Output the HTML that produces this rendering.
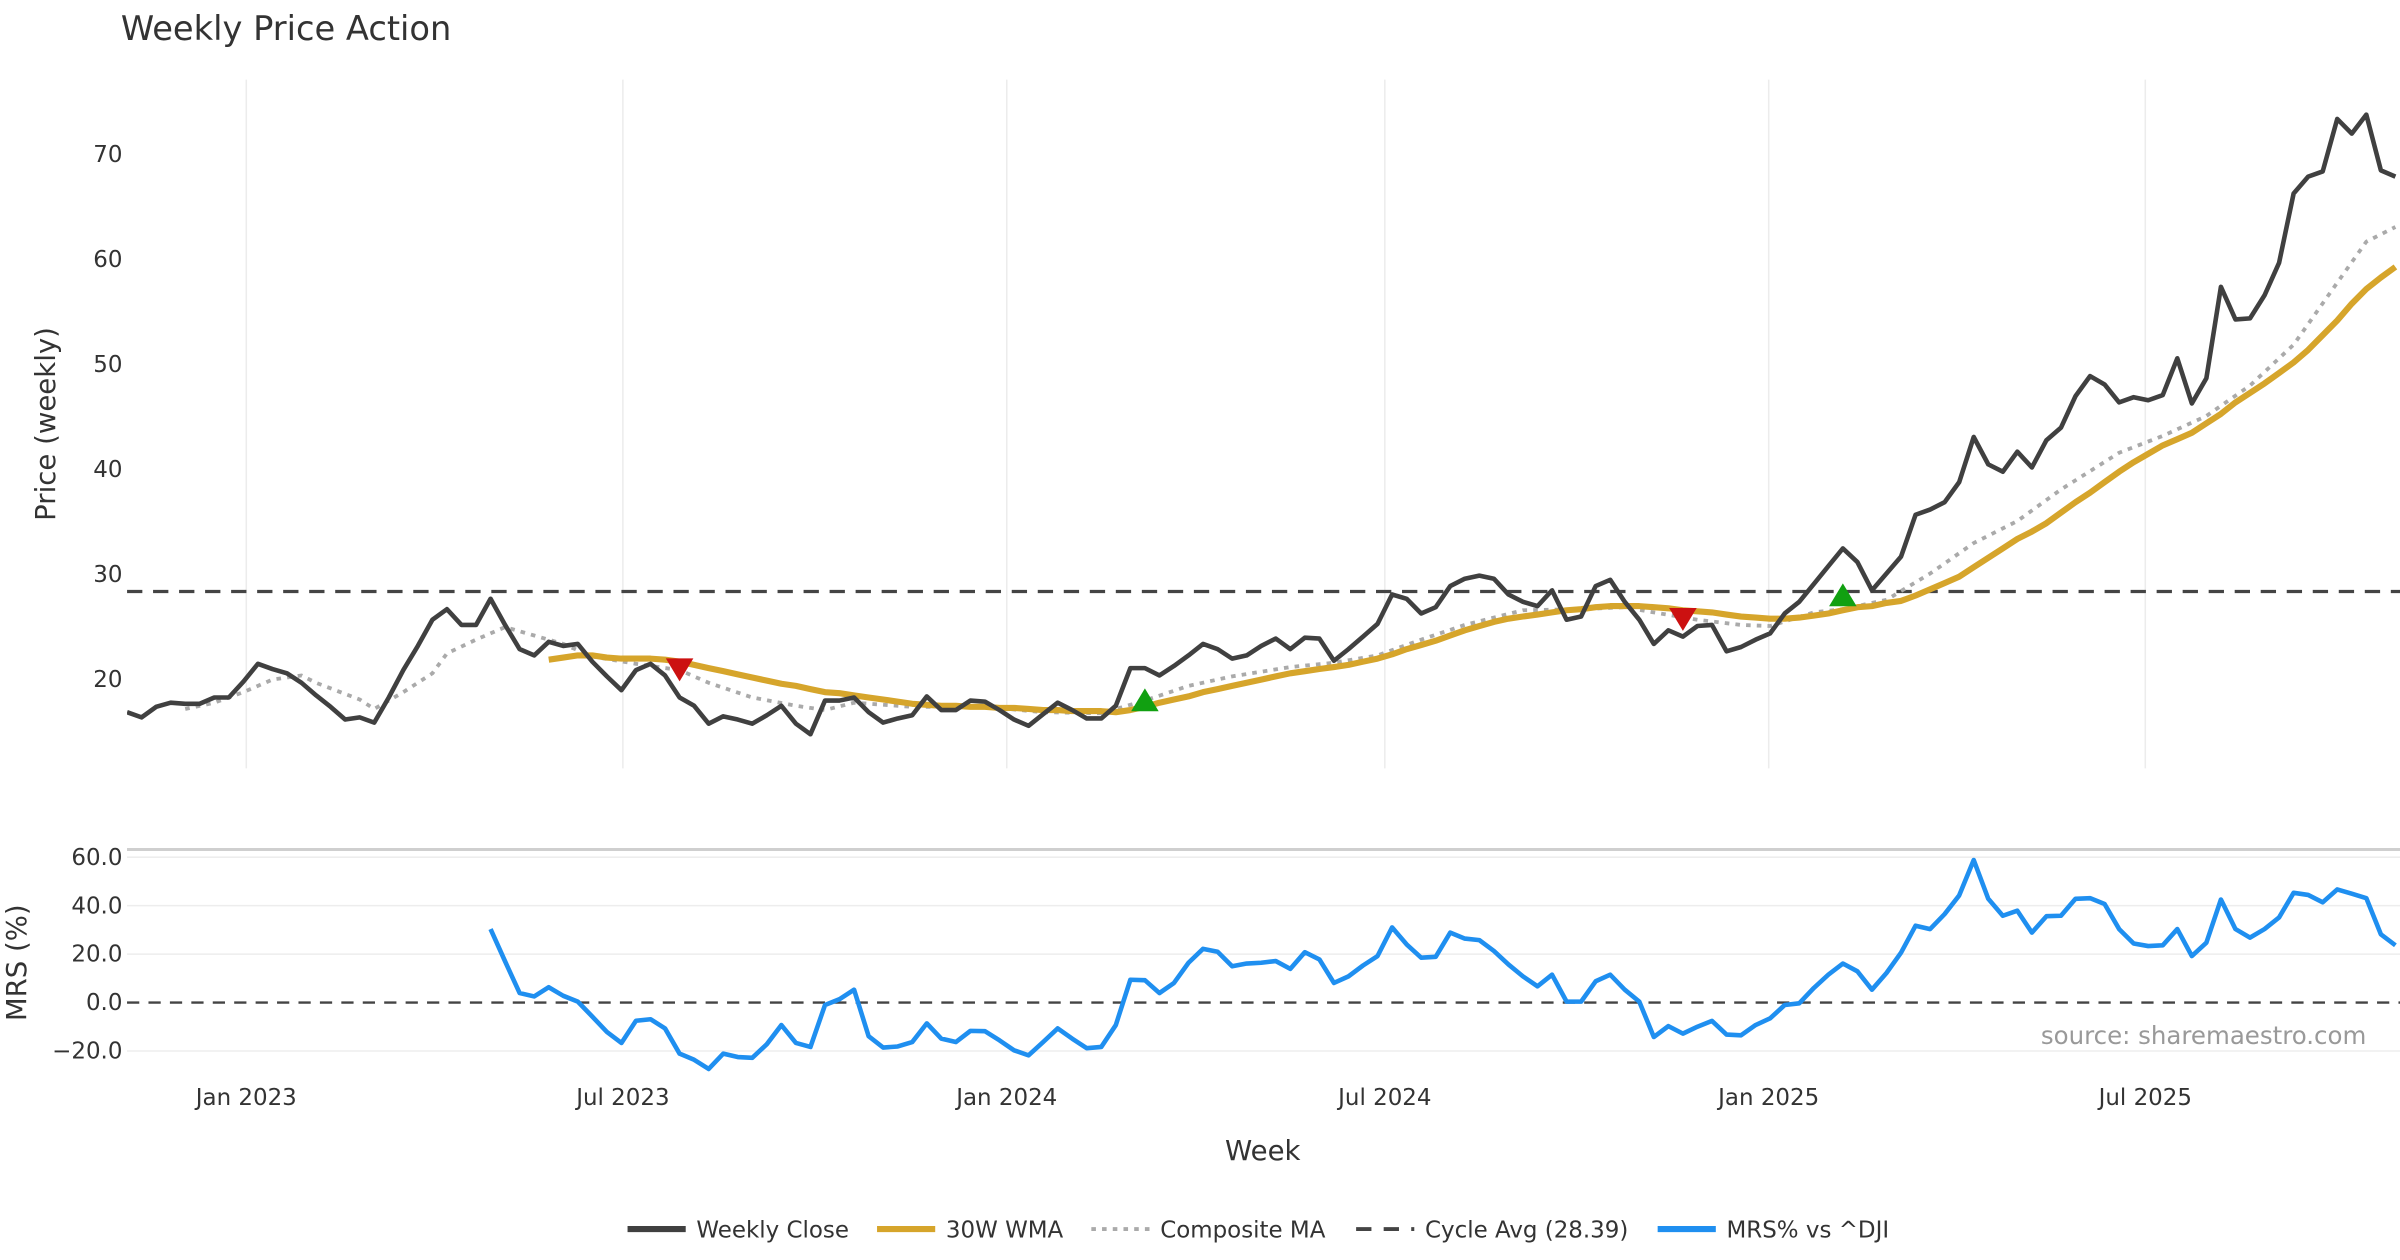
<!DOCTYPE html>
<html><head><meta charset="utf-8"><style>
html,body{margin:0;padding:0;background:#fff;}
svg{display:block;font-family:"DejaVu Sans","Liberation Sans",sans-serif;}
</style></head><body>
<svg id="chart" width="2400" height="1260" viewBox="0 0 1568 823.2" xmlns="http://www.w3.org/2000/svg">
<rect x="0" y="0" width="1568" height="823.2" fill="#fff"/>
<text x="79" y="26" font-size="22" fill="#333">Weekly Price Action</text>
<text transform="translate(36,277) rotate(-90)" text-anchor="middle" font-size="18" fill="#333">Price (weekly)</text>
<text transform="translate(17,629) rotate(-90)" text-anchor="middle" font-size="18" fill="#333">MRS (%)</text>
<text x="825" y="758" text-anchor="middle" font-size="18" fill="#333">Week</text>
<text x="1546" y="682" text-anchor="end" font-size="16" fill="#999">source: sharemaestro.com</text>
<g id="grid"></g>
<g id="series"></g>
<g id="legend"></g>
</svg>
<script>
const closeValues=[16.9,16.4,17.4,17.8,17.7,17.7,18.3,18.3,19.8,21.5,21.0,20.6,19.7,18.5,17.4,16.2,16.4,15.9,18.3,20.9,23.2,25.7,26.7,25.2,25.2,27.7,25.2,22.9,22.3,23.6,23.2,23.4,21.7,20.3,19.0,20.9,21.5,20.4,18.3,17.5,15.8,16.5,16.2,15.8,16.6,17.5,15.8,14.8,18.0,18.0,18.3,16.9,15.9,16.3,16.6,18.4,17.1,17.1,18.0,17.9,17.1,16.2,15.6,16.7,17.8,17.1,16.3,16.3,17.5,21.1,21.1,20.4,21.3,22.3,23.4,22.9,22.0,22.3,23.2,23.9,22.9,24.0,23.9,21.8,22.9,24.1,25.3,28.1,27.7,26.3,26.9,28.9,29.6,29.9,29.6,28.1,27.4,27.0,28.5,25.7,26.0,28.9,29.5,27.4,25.7,23.4,24.7,24.1,25.1,25.2,22.7,23.1,23.8,24.4,26.3,27.4,29.1,30.8,32.5,31.2,28.5,30.1,31.7,35.7,36.2,36.9,38.8,43.1,40.5,39.8,41.7,40.2,42.8,44.0,47.0,48.9,48.1,46.4,46.9,46.6,47.1,50.6,46.3,48.7,57.4,54.3,54.4,56.6,59.7,66.3,67.9,68.4,73.4,72.0,73.8,68.5,67.9];
const wmaStart=29;
const wmaValues=[21.9,22.1,22.3,22.3,22.1,22.0,22.0,22.0,21.9,21.7,21.4,21.1,20.8,20.5,20.2,19.9,19.6,19.4,19.1,18.8,18.7,18.5,18.3,18.1,17.9,17.7,17.6,17.5,17.5,17.4,17.4,17.3,17.3,17.2,17.1,17.1,17.0,17.0,17.0,16.9,17.1,17.4,17.8,18.1,18.4,18.8,19.1,19.4,19.7,20.0,20.3,20.6,20.8,21.0,21.2,21.4,21.7,22.0,22.4,22.9,23.3,23.7,24.2,24.7,25.1,25.5,25.8,26.0,26.2,26.4,26.6,26.7,26.9,27.0,27.0,27.0,26.9,26.8,26.6,26.5,26.4,26.2,26.0,25.9,25.8,25.8,25.9,26.1,26.3,26.6,26.9,27.0,27.3,27.5,28.0,28.6,29.2,29.8,30.7,31.6,32.5,33.4,34.1,34.9,35.9,36.9,37.8,38.8,39.8,40.7,41.5,42.3,42.9,43.5,44.4,45.3,46.4,47.3,48.2,49.2,50.2,51.4,52.8,54.2,55.8,57.2,58.3,59.3];
const compWeeks=[4,6,8,10,12,13,16,17,19,21,22,24,26,28,30,32,35,38,40,43,46,48,50,54,59,63,67,70,73,76,80,83,86,89,92,96,100,103,105,108,111,113,116,118,121,124,127,130,133,137,140,143,146,149,152,154,156];
const compValues=[17.2,17.8,18.8,20.0,20.4,19.7,18.1,17.2,18.8,20.6,22.5,23.8,25.0,24.2,23.4,22.2,21.5,20.9,19.7,18.3,17.5,17.1,17.8,17.4,17.4,16.9,16.8,18.0,19.4,20.3,21.2,21.6,22.3,23.8,25.2,26.6,26.7,26.9,26.4,25.7,25.2,25.1,26.4,26.7,27.6,30.1,33.0,35.1,38.1,41.6,43.2,45.1,48.0,51.9,57.8,61.7,63.1];
const cycleAvg=28.39;
const sellWeeks=[38,107];
const sellValues=[21.0,25.8];
const buyWeeks=[70,118];
const buyValues=[18.0,28.0];
const mrsStart=25;
const mrsValues=[30.3,17.0,3.9,2.5,6.3,2.8,0.4,-5.8,-12.1,-16.7,-7.5,-6.9,-10.7,-21.1,-23.6,-27.4,-21.1,-22.5,-22.8,-17.2,-9.3,-16.7,-18.3,-1.0,1.4,5.3,-13.9,-18.6,-18.1,-16.3,-8.6,-14.9,-16.3,-11.7,-11.8,-15.6,-19.7,-21.8,-16.3,-10.7,-14.9,-18.8,-18.3,-9.3,9.4,9.2,3.9,8.1,16.4,22.2,21.0,15.0,16.1,16.4,17.1,13.9,20.8,17.8,8.1,10.8,15.3,19.2,31.0,24.0,18.5,18.9,28.9,26.4,25.8,21.3,15.7,10.8,6.7,11.5,0.4,0.4,8.8,11.5,5.3,0.4,-14.2,-9.7,-12.8,-10.0,-7.6,-13.2,-13.5,-9.3,-6.5,-1.0,-0.3,6.0,11.5,16.1,12.9,5.3,12.2,20.6,31.7,30.3,36.5,44.2,58.8,42.8,35.8,37.9,28.9,35.6,35.8,42.8,43.1,40.7,30.3,24.4,23.3,23.6,30.3,19.2,24.7,42.5,30.3,26.8,30.3,35.1,45.3,44.4,41.4,46.7,44.9,43.1,28.2,23.6];
const xTickLabels=["Jan 2023","Jul 2023","Jan 2024","Jul 2024","Jan 2025","Jul 2025"];
const xTickWeeks=[8.2,34.1,60.5,86.5,112.9,138.8];
const priceTicks=[20,30,40,50,60,70];
const mrsTicks=[60,40,20,0,-20];

const NS="http://www.w3.org/2000/svg";
const X0=83,XS=9.5;
const xOf=w=>X0+w*XS;
const yP=v=>444-(v-20)*6.86;
const yM=v=>655-v*1.583;
function mk(tag,attrs,parent){const e=document.createElementNS(NS,tag);for(const k in attrs)e.setAttribute(k,attrs[k]);parent.appendChild(e);return e;}
const grid=document.getElementById('grid');
const ser=document.getElementById('series');
const leg=document.getElementById('legend');
const defs=mk('defs',{},grid);
const cp=mk('clipPath',{id:'plotclip'},defs);
mk('rect',{x:83,y:40,width:1485,height:720},cp);

xTickWeeks.forEach((w,i)=>{
  const l=mk('line',{x1:xOf(w),x2:xOf(w),y1:52,y2:502,stroke:'#ececec','stroke-width':1},grid);
  
  
  const t=mk('text',{x:xOf(w),y:722,'text-anchor':'middle','font-size':15,fill:'#333'},grid);
  t.textContent=xTickLabels[i];
  
  
});
priceTicks.forEach(v=>{
  const t=mk('text',{x:80,y:yP(v)+5,'text-anchor':'end','font-size':15,fill:'#333'},grid);
  t.textContent=String(v);
  
  
});
const border=mk('line',{x1:83,x2:1568,y1:555,y2:555,stroke:'#cfcfcf','stroke-width':2},grid);


mrsTicks.forEach(v=>{
  if(v!==0){const g=mk('line',{x1:83,x2:1568,y1:yM(v),y2:yM(v),stroke:'#ededed','stroke-width':1},grid);
  
  }
  const t=mk('text',{x:80,y:yM(v)+5,'text-anchor':'end','font-size':15,fill:'#333'},grid);
  t.textContent=(v<0?'\u2212':'')+Math.abs(v).toFixed(1);
  
  
});
const zl=mk('line',{x1:83,x2:1568,y1:yM(0),y2:yM(0),stroke:'#444','stroke-width':1.6,'stroke-dasharray':'8,6'},grid);



const g=mk('g',{'clip-path':'url(#plotclip)'},ser);
function pts(ws,vs,yf){return ws.map((w,i)=>xOf(w).toFixed(1)+','+yf(vs[i]).toFixed(1)).join(' ');}
const cyc=mk('line',{x1:83,x2:1568,y1:yP(cycleAvg),y2:yP(cycleAvg),stroke:'#444','stroke-width':2.2,'stroke-dasharray':'10,7'},g);


const comp=mk('polyline',{points:pts(compWeeks,compValues,yP),fill:'none',stroke:'#aaaaaa','stroke-width':2.5,'stroke-dasharray':'3,4','stroke-linejoin':'round'},g);


const wma=mk('polyline',{points:pts(wmaValues.map((_,i)=>wmaStart+i),wmaValues,yP),fill:'none',stroke:'#d6a52b','stroke-width':4,'stroke-linejoin':'round'},g);


const cl=mk('polyline',{points:pts(closeValues.map((_,i)=>i),closeValues,yP),fill:'none',stroke:'#404040','stroke-width':3,'stroke-linejoin':'round'},g);


const mrs=mk('polyline',{points:pts(mrsValues.map((_,i)=>mrsStart+i),mrsValues,yM),fill:'none',stroke:'#1f8ff0','stroke-width':3,'stroke-linejoin':'round'},g);


sellWeeks.forEach((w,i)=>{const x=xOf(w),y=yP(sellValues[i]);
  const p=mk('polygon',{points:`${x-9},${y-7} ${x+9},${y-7} ${x},${y+8}`,fill:'#cc1111'},g);
  
  });
buyWeeks.forEach((w,i)=>{const x=xOf(w),y=yP(buyValues[i]);
  const p=mk('polygon',{points:`${x-9},${y+7} ${x+9},${y+7} ${x},${y-8}`,fill:'#11a011'},g);
  
  });

const items=[
 {x:410,label:'Weekly Close',stroke:'#404040',w:4,dash:'',name:'legend-weekly-close'},
 {x:573,label:'30W WMA',stroke:'#d6a52b',w:4,dash:'',name:'legend-wma'},
 {x:713,label:'Composite MA',stroke:'#aaaaaa',w:2.5,dash:'3,4',name:'legend-composite-ma'},
 {x:886,label:'Cycle Avg (28.39)',stroke:'#444',w:2.5,dash:'10,8',name:'legend-cycle-avg'},
 {x:1083,label:'MRS% vs ^DJI',stroke:'#1f8ff0',w:4,dash:'',name:'legend-mrs'}];
items.forEach(it=>{
  const gg=mk('g',{},leg);
  
  
  mk('line',{x1:it.x,x2:it.x+38,y1:803,y2:803,stroke:it.stroke,'stroke-width':it.w,'stroke-dasharray':it.dash},gg);
  const t=mk('text',{x:it.x+45,y:808.5,'font-size':15,fill:'#333'},gg);
  t.textContent=it.label;
});
</script>
</body></html>
